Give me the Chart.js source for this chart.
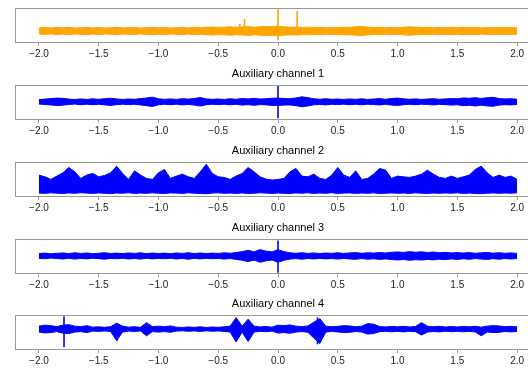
<!DOCTYPE html>
<html lang="en">
<head>
<meta charset="UTF-8">
<title>Auxiliary channels</title>
<script src="https://cdn.jsdelivr.net/npm/chart.js"></script>
<style>
    html, body { margin: 0; padding: 0; background: #fff; }
    body {
        width: 528px;
        height: 372px;
        overflow: hidden;
        position: relative;
        font-family: "Liberation Sans", Arial, sans-serif;
    }
    .panel { position: absolute; left: 0; }
</style>
</head>
<body>

<div class="panel" style="top:-12px"><canvas id="c0" width="545" height="76"></canvas></div>
<div class="panel" style="top:65px"><canvas id="c1" width="545" height="76"></canvas></div>
<div class="panel" style="top:142px"><canvas id="c2" width="545" height="76"></canvas></div>
<div class="panel" style="top:219px"><canvas id="c3" width="545" height="76"></canvas></div>
<div class="panel" style="top:295px"><canvas id="c4" width="545" height="76"></canvas></div>

<script>
// shared x ticks (seconds)
const tickValues = [-2, -1.5, -1, -0.5, 0, 0.5, 1, 1.5, 2];
const tickLabels = ['\u22122.0', '\u22121.5', '\u22121.0', '\u22120.5', '0.0', '0.5', '1.0', '1.5', '2.0'];

const titles = ['', 'Auxiliary channel 1', 'Auxiliary channel 2', 'Auxiliary channel 3', 'Auxiliary channel 4'];

// envelope of each trace, one sample every 0.05 s from -2.0 to 2.0 (box height = 34)
const hi0 = [14, 14.5, 14, 14.6, 14.2, 14.8, 14, 14.3, 14.7, 14.1,
    14.5, 14, 14.2, 14.8, 14.1, 14.3, 14.6, 14, 14.4, 14.7,
    14.2, 14.6, 14, 14.3, 14.7, 14.1, 14.5, 14.2, 14.8, 15,
    14.6, 14.8, 15.2, 14.7, 15, 15.4, 14.8, 15.2, 15.5, 15.3,
    15.8, 15.2, 14.8, 15, 14.6, 14.8, 14.3, 14.6, 14.2, 14.5,
    14.3, 14.7, 14.8, 15.2, 15.6, 14.9, 14.4, 14.7, 14.2, 14.6,
    14.3, 14.8, 15.3, 14.9, 14.4, 14.7, 14.2, 14.6, 14.3, 14.8,
    14.2, 14.6, 14.3, 14.7, 14.1, 14.5, 14.2, 14.6, 14.3, 14.5,
    14.2];
const lo0 = [8, 7.6, 8.1, 7.5, 7.9, 7.4, 8, 7.7, 7.3, 7.9,
    7.5, 8, 7.8, 7.2, 7.9, 7.7, 7.4, 8, 7.6, 7.3,
    7.8, 7.4, 8, 7.7, 7.3, 7.9, 7.5, 7.8, 7.2, 7,
    7.4, 7.2, 6.8, 7.3, 7, 6.6, 7.2, 6.8, 6.5, 6.7,
    6.2, 6.8, 7.2, 7, 7.4, 7.2, 7.7, 7.4, 7.8, 7.5,
    7.7, 7.3, 7.2, 6.8, 6.4, 7.1, 7.6, 7.3, 7.8, 7.4,
    7.7, 7.2, 6.7, 7.1, 7.6, 7.3, 7.8, 7.4, 7.7, 7.2,
    7.8, 7.4, 7.7, 7.3, 7.9, 7.5, 7.8, 7.4, 7.7, 7.5,
    7.8];

const hi1 = [19.5, 20, 20.5, 21, 20.8, 20, 19.6, 20.2, 19.7, 20.3,
    19.8, 20.4, 20.9, 20.2, 19.7, 20.1, 19.8, 20.5, 21.2, 22,
    20.3, 19.8, 20.2, 19.7, 20.4, 20, 20.6, 21.6, 20.2, 19.8,
    20.1, 19.7, 20.3, 19.8, 20.6, 20.2, 20.8, 20.1, 20.4, 20.9,
    21, 20.6, 20.4, 21.2, 22.3, 21.5, 20.3, 19.9, 20.4, 19.8,
    20.1, 19.7, 20.2, 19.8, 20.3, 19.7, 20.1, 20.5, 19.8, 20.6,
    21, 20.3, 19.8, 20.2, 19.7, 20.1, 20.4, 19.8, 20.2, 20.6,
    20.3, 21.2, 20.8, 21.5, 20.7, 21.4, 21.8, 20.6, 20.2, 20.4,
    19.9];
const lo1 = [15.1, 14.6, 14.1, 13.6, 13.9, 14.6, 15, 14.4, 14.9, 14.3,
    14.8, 14.2, 13.7, 14.4, 14.9, 14.5, 14.8, 14.1, 13.4, 12.6,
    14.3, 14.8, 14.4, 14.9, 14.2, 14.6, 14, 13, 14.4, 14.8,
    14.5, 14.9, 14.3, 14.8, 14, 14.4, 13.8, 14.5, 14.2, 13.7,
    13.6, 14, 14.2, 13.4, 12.3, 13.1, 14.3, 14.7, 14.2, 14.8,
    14.5, 14.9, 14.4, 14.8, 14.3, 14.9, 14.5, 14.1, 14.8, 14,
    13.6, 14.3, 14.8, 14.4, 14.9, 14.5, 14.2, 14.8, 14.4, 14,
    14.3, 13.4, 13.8, 13.1, 13.9, 13.2, 12.8, 14, 14.4, 14.2,
    14.7];

const hi2 = [21, 19.3, 16.7, 20, 23.3, 28.7, 24.3, 17.7, 21, 22.7,
    19.3, 20.7, 23.3, 30, 22.7, 16.7, 25.3, 21, 17.7, 16.7,
    23.3, 26.7, 17.7, 20, 22, 19.3, 17.7, 24.3, 32, 22.7,
    19.3, 18.7, 16.7, 20, 22.7, 28.7, 24.3, 19.3, 17, 16,
    16.7, 17.7, 24.3, 27.7, 20, 19.3, 22, 17.7, 16.7, 21,
    28.7, 21, 18.7, 25.3, 16.7, 17.7, 22, 27.7, 26, 17.7,
    20, 19.3, 18.7, 20, 22, 26, 22, 18.7, 17.7, 20,
    17.7, 19.3, 21, 26.7, 30, 23.3, 18.7, 21, 18.7, 20,
    16.7];
const lo2 = [3, 2.6, 3.2, 2.8, 2.5, 3.1, 2.7, 3.3, 2.9, 2.6,
    3.1, 2.7, 2.4, 3, 2.8, 3.3, 2.6, 3, 2.7, 3.2,
    2.8, 2.5, 3.1, 2.9, 2.6, 3.2, 2.8, 2.5, 2.3, 2.9,
    3.2, 2.7, 3, 2.6, 3.1, 2.5, 2.8, 3.2, 2.9, 2.6,
    3, 2.7, 2.5, 3.1, 2.8, 3.2, 2.6, 3, 2.7, 3.3,
    2.5, 2.9, 3.1, 2.6, 3, 2.7, 3.2, 2.4, 2.8, 3.1,
    2.7, 3, 2.6, 3.2, 2.8, 2.5, 3, 2.7, 3.1, 2.8,
    3.2, 2.6, 2.9, 2.5, 2.4, 2.8, 3.1, 2.7, 3, 2.8,
    3.2];

const hi3 = [19.5, 20, 19.3, 19.8, 20.2, 19.5, 20.3, 19.7, 20.1, 19.4,
    19.9, 20.4, 19.6, 20, 19.5, 20.2, 19.7, 20.3, 19.5, 20.1,
    19.6, 20, 19.4, 20.2, 19.7, 20.4, 19.6, 20.1, 19.5, 20,
    19.7, 20.3, 19.8, 20.6, 21.5, 22.8, 21.3, 23.5, 22, 21.2,
    23.5, 21.5, 20.3, 19.8, 20.4, 19.7, 20.2, 19.6, 20.1, 19.8,
    20.3, 19.7, 20.2, 20.5, 19.8, 20.4, 20, 20.6, 20.1, 20.8,
    21.2, 20.7, 21.5, 20.9, 21.3, 20.6, 21.1, 20.4, 20.8, 20.2,
    20.6, 20, 20.5, 19.8, 20.3, 20.7, 19.9, 20.4, 19.8, 20.2,
    19.7];
const lo3 = [14.8, 14.3, 15, 14.5, 14.1, 14.8, 14, 14.6, 14.2, 14.9,
    14.4, 13.9, 14.7, 14.3, 14.8, 14.1, 14.6, 14, 14.8, 14.2,
    14.7, 14.3, 14.9, 14.1, 14.6, 13.9, 14.7, 14.2, 14.8, 14.3,
    14.6, 14, 14.5, 13.7, 12.8, 11.5, 13, 10.8, 12.3, 13.1,
    10.8, 12.8, 14, 14.5, 13.9, 14.6, 14.1, 14.7, 14.2, 14.5,
    14, 14.6, 14.1, 13.8, 14.5, 13.9, 14.3, 13.7, 14.2, 13.5,
    13.1, 13.6, 12.8, 13.4, 13, 13.7, 13.2, 13.9, 13.5, 14.1,
    13.7, 14.3, 13.8, 14.5, 14, 13.6, 14.4, 13.9, 14.5, 14.1,
    14.6];

const hi4 = [23, 24, 23.5, 22.5, 24, 24.5, 23, 22.5, 23.5, 22,
    22.3, 21.8, 22.5, 26, 23, 22, 22.4, 21.8, 26.5, 22.5,
    23, 22.5, 23.2, 22, 21.7, 22.2, 21.8, 22.3, 21.7, 22.1,
    21.8, 22.3, 23, 31.5, 23, 30, 23, 22.2, 22.6, 22,
    24, 23.5, 24.2, 23, 22.5, 23.2, 27, 30.5, 23, 22.4,
    22.8, 23.5, 23.2, 22.4, 22.9, 25.5, 25, 22.6, 22.2, 22.7,
    22.3, 22.8, 22.2, 22.6, 26.5, 23, 22.4, 22.8, 22.1, 22.6,
    22.2, 22.7, 22.3, 22.8, 22, 23, 23.5, 23.2, 22.4, 22.8,
    22.3];
const lo4 = [17, 16.2, 16.5, 17.5, 16, 15.5, 17, 17.5, 16.5, 18,
    17.7, 18.2, 17.5, 8.5, 17, 18, 17.6, 18.2, 13.3, 17.5,
    17, 17.5, 16.8, 18, 18.3, 17.8, 18.2, 17.7, 18.3, 17.9,
    18.2, 17.7, 17, 7, 17, 7.5, 17, 17.8, 17.4, 18,
    16, 16.5, 15.8, 17, 17.5, 16.8, 11, 5.5, 17, 17.6,
    17.2, 16.5, 16.8, 17.6, 17.1, 15, 15.5, 17.4, 17.8, 17.3,
    17.7, 17.2, 17.8, 17.4, 14, 17, 17.6, 17.2, 17.9, 17.4,
    17.8, 17.3, 17.7, 17.2, 13.3, 17, 16.5, 16.8, 17.6, 17.2,
    17.7];

// short transients: time, top, bottom
const spikeX0 = [-0.32, -0.28, 0.0, 0.16];
const spikeTop0 = [18, 23, 34, 31];
const spikeBot0 = [9, 8, 2, 9];
const spikeX1 = [0.0];
const spikeTop1 = [34];
const spikeBot1 = [0.7];
const spikeX2 = [];
const spikeTop2 = [];
const spikeBot2 = [];
const spikeX3 = [0.0];
const spikeTop3 = [32.7];
const spikeBot3 = [0.3];
const spikeX4 = [-1.79, -1.345, 0.33];
const spikeTop4 = [33, 26, 31.7];
const spikeBot4 = [2, 8.3, 4.8];

const times = hi0.map((_, i) => -2 + i * 0.05);

const panels = [
    { hi: hi0, lo: lo0, sx: spikeX0, st: spikeTop0, sb: spikeBot0, color: '#ffa500' },
    { hi: hi1, lo: lo1, sx: spikeX1, st: spikeTop1, sb: spikeBot1, color: '#0000ff' },
    { hi: hi2, lo: lo2, sx: spikeX2, st: spikeTop2, sb: spikeBot2, color: '#0000ff' },
    { hi: hi3, lo: lo3, sx: spikeX3, st: spikeTop3, sb: spikeBot3, color: '#0000ff' },
    { hi: hi4, lo: lo4, sx: spikeX4, st: spikeTop4, sb: spikeBot4, color: '#0000ff' }
];

// grey frame around each axes
const framePlugin = {
    id: 'frame',
    afterDatasetsDraw(chart) {
        const a = chart.chartArea;
        const ctx = chart.ctx;
        ctx.save();
        ctx.strokeStyle = '#9a9a9a';
        ctx.lineWidth = 1;
        ctx.strokeRect(Math.round(a.left) + 0.5, Math.round(a.top) + 0.5,
            Math.round(a.right - a.left), Math.round(a.bottom - a.top));
        ctx.restore();
    }
};

panels.forEach((p, n) => {
    const upper = p.hi.map((v, i) => ({ x: times[i], y: v }));
    const lower = p.lo.map((v, i) => ({ x: times[i], y: v }));
    const spikes = [];
    p.sx.forEach((x, i) => {
        spikes.push({ x: x, y: p.st[i] }, { x: x, y: p.sb[i] }, { x: x, y: null });
    });

    new Chart(document.getElementById('c' + n), {
        type: 'line',
        data: {
            datasets: [
                { data: upper, borderColor: p.color, borderWidth: 1, pointRadius: 0, fill: false },
                { data: lower, borderColor: p.color, borderWidth: 1, pointRadius: 0,
                  backgroundColor: p.color, fill: '-1' },
                { data: spikes, borderColor: p.color, borderWidth: 1.6, pointRadius: 0, fill: false }
            ]
        },
        options: {
            responsive: false,
            animation: false,
            events: [],
            layout: { padding: { left: 15, right: 4, top: n === 0 ? 20 : 0, bottom: 0 } },
            plugins: {
                legend: { display: false },
                tooltip: { enabled: false },
                title: {
                    display: n > 0,
                    text: titles[n],
                    color: '#000',
                    font: { family: '"Liberation Sans", Arial, sans-serif', size: 11, weight: 'normal' },
                    padding: { top: 2, bottom: 5 }
                }
            },
            scales: {
                x: {
                    type: 'linear',
                    min: -2.2,
                    max: 2.2,
                    afterBuildTicks: s => { s.ticks = tickValues.map(v => ({ value: v })); },
                    afterFit: s => { s.height = 22; },
                    border: { display: false },
                    grid: { drawOnChartArea: false, drawTicks: true, tickLength: 4, color: '#9a9a9a' },
                    ticks: {
                        padding: 2,
                        maxRotation: 0,
                        color: '#222',
                        font: { family: '"Liberation Sans", Arial, sans-serif', size: 10 },
                        callback: v => tickLabels[tickValues.indexOf(v)]
                    }
                },
                y: { display: false, min: 0, max: 34 }
            }
        },
        plugins: [framePlugin]
    });
});
</script>
</body>
</html>
